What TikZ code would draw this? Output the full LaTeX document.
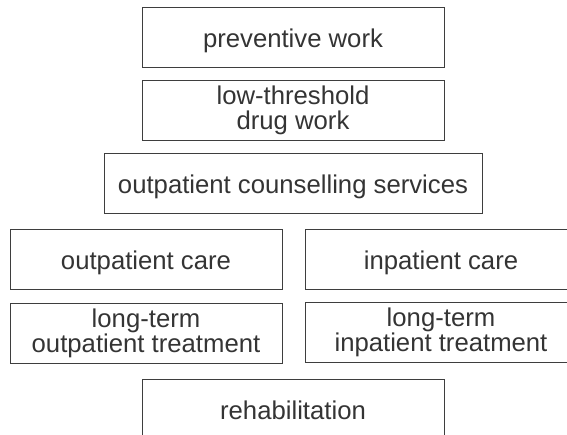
\documentclass[tikz,border=0pt]{standalone}
\usepackage{fontspec}
\setmainfont{Liberation Sans}
\usetikzlibrary{positioning}
\definecolor{tierLine}{RGB}{62,62,62}
\definecolor{tierText}{RGB}{52,52,52}
\tikzset{
  tier/.style={
    draw=tierLine,
    line width=0.9pt,
    minimum height=60pt,
    inner sep=0pt,
    align=center,
    text=tierText,
    font=\fontsize{25.7}{25}\selectfont
  },
  oneline/.style={text height=20.4pt, text depth=0pt},
  narrowtier/.style={tier, minimum width=302pt},
  sidetier/.style={tier, minimum width=272pt},
}

\begin{document}
\begin{tikzpicture}[x=1pt,y=-1pt]
  \useasboundingbox (0,0) rectangle (567,435);
  \clip (0,0) rectangle (567,435);
  % top to bottom
  \node[narrowtier,oneline] (prevention) at (293,37.5) {preventive work};
  \node[narrowtier] (lowthreshold) at (293,110.5) {low-threshold\\drug work};
  \node[tier,oneline,minimum width=378pt] (counselling) at (293,183.5) {outpatient counselling services};
  % two columns
  \node[sidetier,oneline] (outcare) at (146,259.8) {outpatient care};
  \node[sidetier,oneline] (incare) at (441,259.8) {inpatient care};
  \node[sidetier] (outlong) at (146,333.5) {long-term\\outpatient treatment};
  \node[sidetier] (inlong) at (441,332.3) {long-term\\inpatient treatment};
  \node[narrowtier,oneline] (rehab) at (293,409.5) {rehabilitation};
\end{tikzpicture}
\end{document}
